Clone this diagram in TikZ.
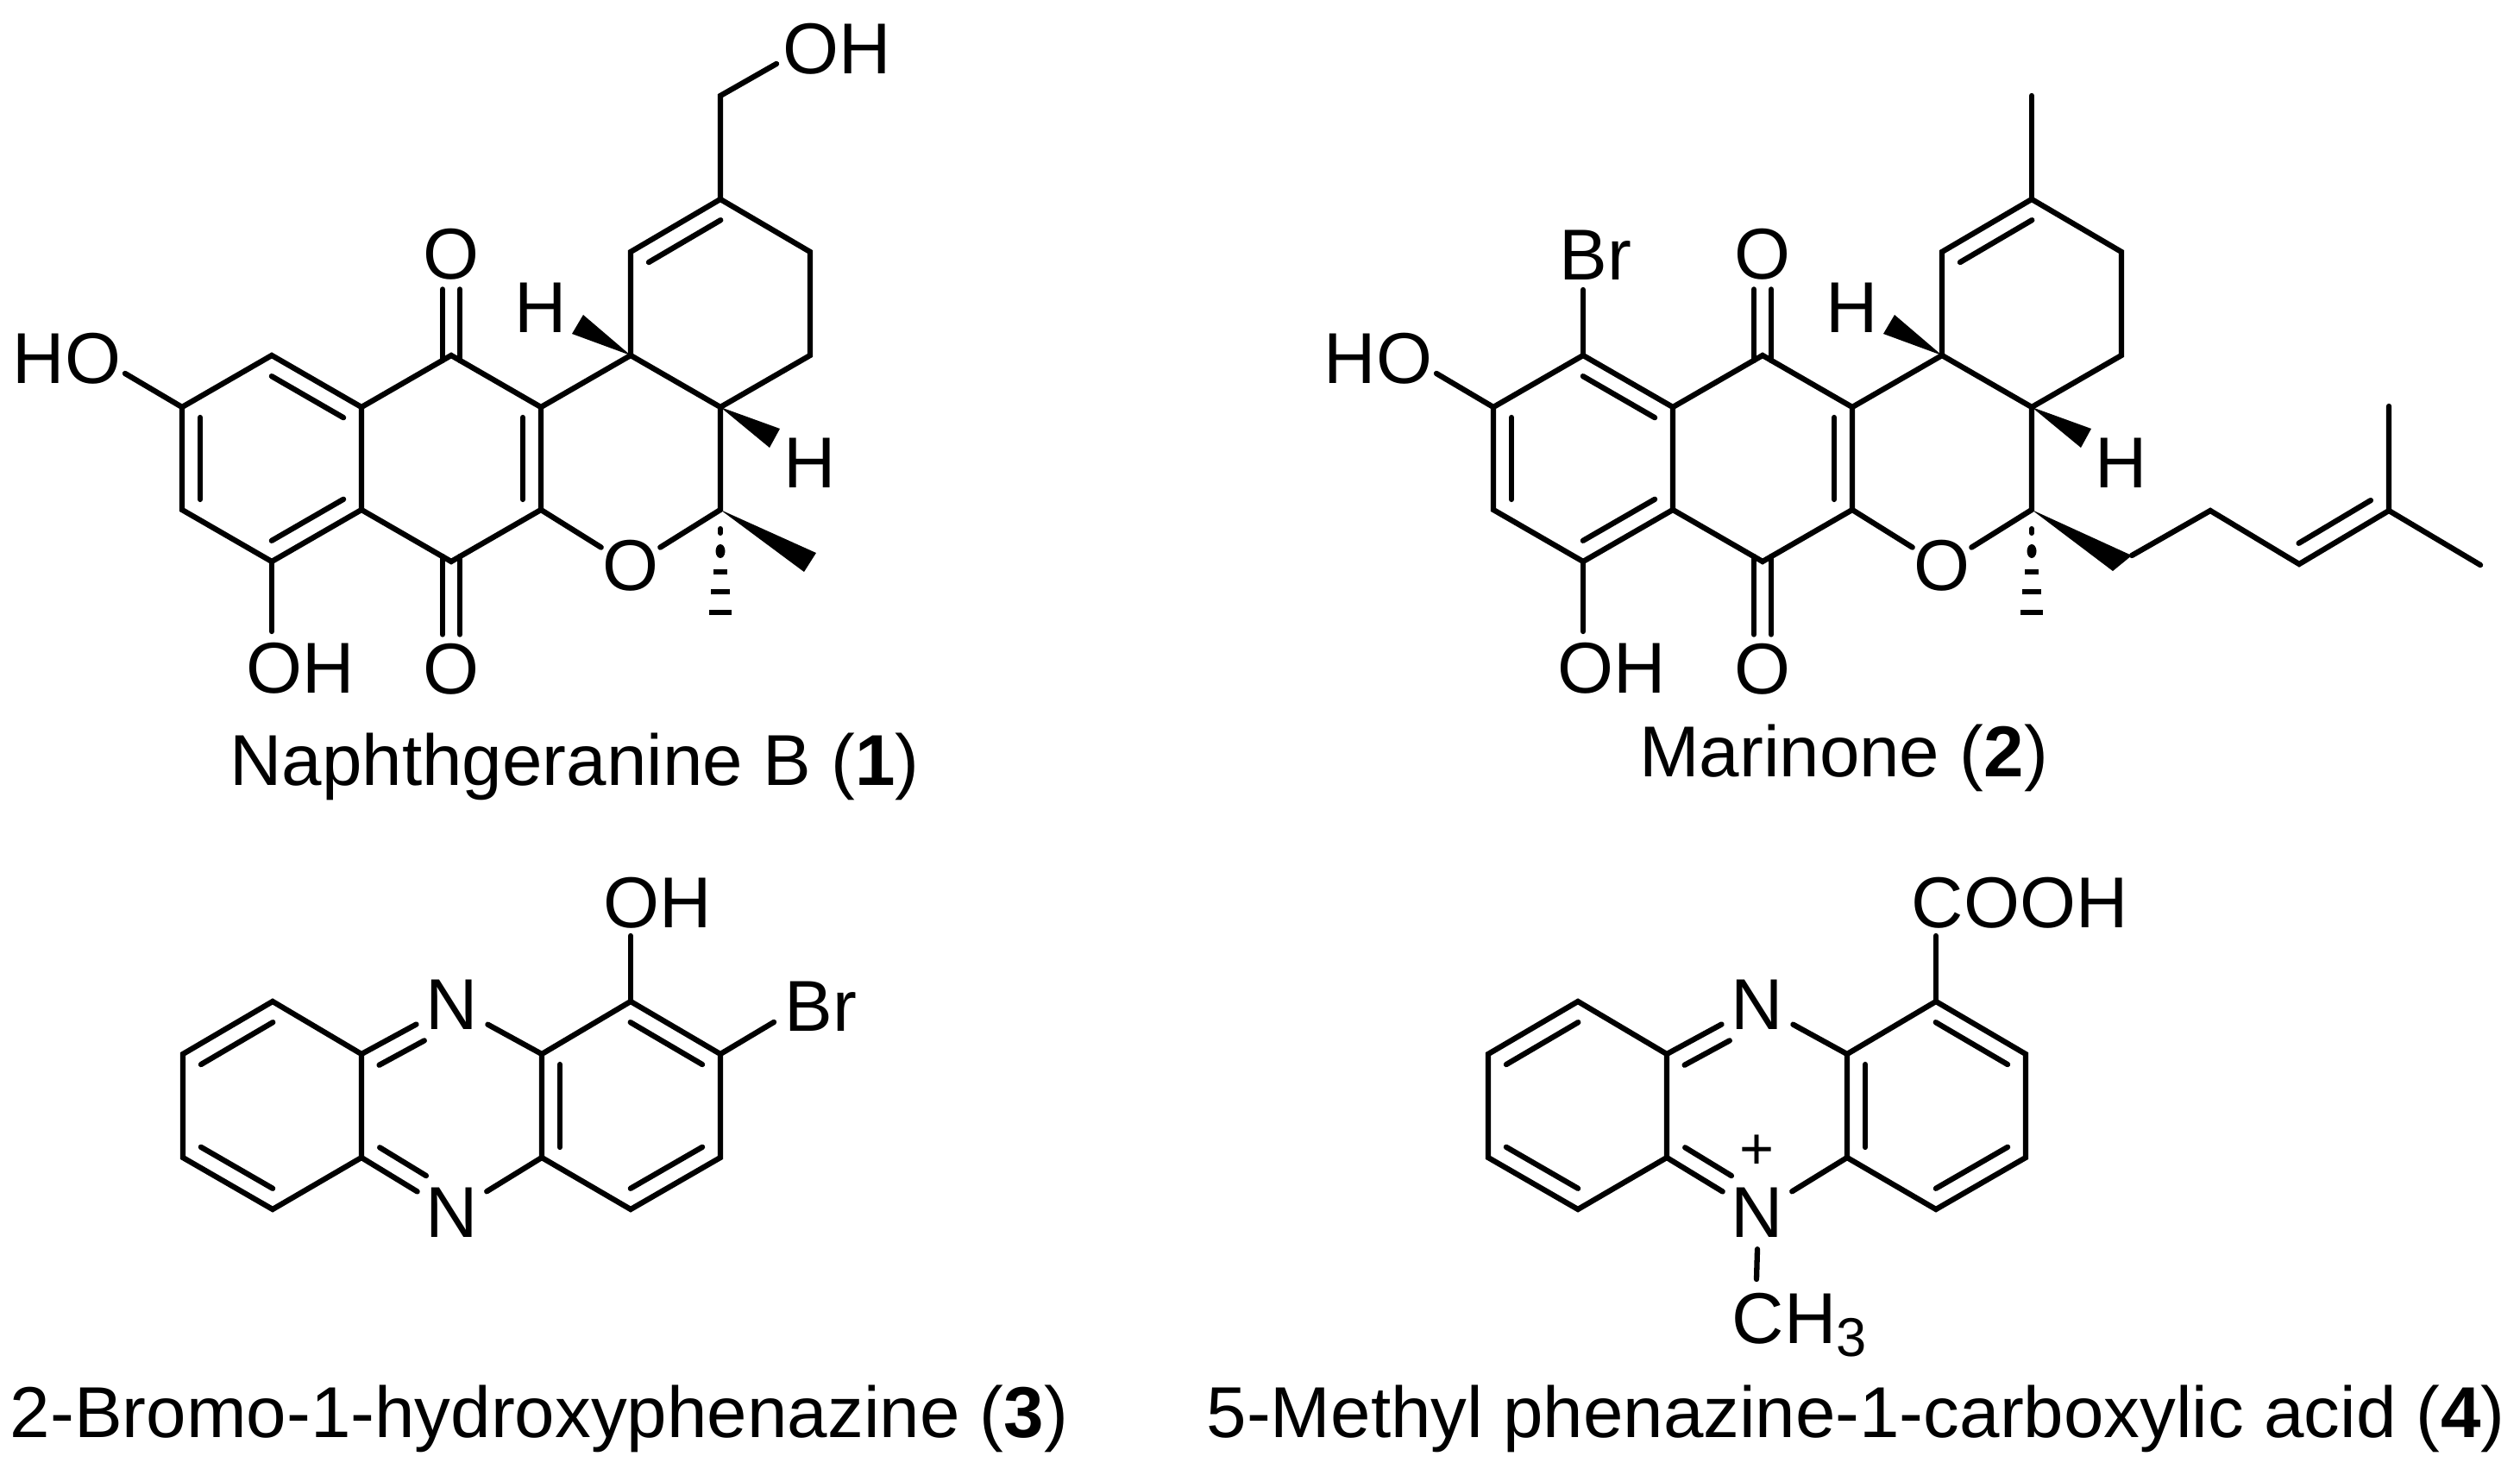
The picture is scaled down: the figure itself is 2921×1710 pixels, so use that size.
\documentclass[tikz,border=0pt]{standalone}
\usepackage{fontspec}
\setmainfont{Liberation Sans}
\usetikzlibrary{calc}
\tikzset{
	every node/.style={font=\fontsize{23.76}{28}\selectfont, inner sep=0pt},
	bond/.style={line width=.063cm, line cap=round, line join=miter},
	chemlabel/.style={anchor=base west},
	hatom/.style={anchor=base},
	oxygen/.style={circle, inner sep=-.03cm},
	nitrogen/.style={circle, minimum size=.93cm},
	caption/.style={anchor=base}
}
\newcommand{\innerbond}[4]{\draw[bond] ($(#1)!#3!(#2)!.21cm!90:(#2)$) -- ($(#2)!#4!(#1)!.21cm!-90:(#1)$);}
\newcommand{\ringbond}[2]{\innerbond{#1}{#2}{.12cm}{.12cm}}
\newcommand{\hashbond}[1]{
	\draw[line width=.06cm, line cap=round] ([shift={(0,22)}]#1) -- ([shift={(0,27)}]#1);
	\fill ([shift={(0,48)}]#1) ellipse [x radius=.055cm, y radius=.08cm];
	\foreach \d/\w in {72/8, 95/11, 119/13}
		\draw[line width=.055cm] ([shift={(-\w,\d)}]#1) -- ([shift={(\w,\d)}]#1);
}
\newcommand{\quinonecore}{
	\foreach \atom/\x/\y in {a1/315/412, a2/211/472, a3/211/591, a4/315/651, a5/419/591, a6/419/472,
		k1/523/412, k2/523/651, c1/627/472, c2/627/591, s1/835/591, s2/835/472, s3/731/412,
		r1/731/292, r2/835/231, r3/939/292, r4/939/412, hoEnd/145/433, ohEnd/315/732,
		wa/676/365, wb/663/387, wc/904/497, wd/892/519}
		\coordinate (\atom) at (\x,\y);
	\node[oxygen] (oUp) at (523,295) {O};
	\node[oxygen] (oDown) at (523,776) {O};
	\node[oxygen] (oRing) at (731,656) {O};
	\node[hatom] (hUp) at (627,386) {H};
	\node[hatom] (hDown) at (939,566) {H};
	\node[chemlabel] (hoLeft) at (14,445) {HO};
	\node[chemlabel] (ohLow) at (285,804) {OH};
	\draw[bond] (a1) -- (a2) -- (a3) -- (a4) -- (a5) -- (a6) -- cycle;
	\draw[bond] (a6) -- (k1) -- (c1) -- (c2) -- (k2) -- (a5);
	\draw[bond] (c1) -- (s3) -- (s2) -- (s1);
	\draw[bond] (s3) -- (r1) -- (r2) -- (r3) -- (r4) -- (s2);
	\draw[bond] (c2) -- (oRing);
	\draw[bond] (s1) -- (oRing);
	\draw[bond] (a2) -- (hoEnd);
	\draw[bond] (a4) -- (ohEnd);
	\ringbond{a2}{a3}
	\ringbond{a4}{a5}
	\ringbond{a6}{a1}
	\ringbond{c2}{c1}
	\ringbond{r2}{r1}
	\foreach \s in {-10,10} {
		\draw[bond] ([shift={(\s,6)}]k1) -- ([shift={(\s,0)}]oUp.south);
		\draw[bond] ([shift={(\s,-6)}]k2) -- ([shift={(\s,0)}]oDown.north);
	}
	\fill (s3) -- (wa) -- (wb) -- cycle;
	\fill (s2) -- (wc) -- (wd) -- cycle;
	\hashbond{s1}
}
\newcommand{\phenazinecore}{
	\foreach \atom/\x/\y in {t1/316/1161, t2/212/1222, t3/212/1342, t4/316/1402, t5/419/1342, t6/419/1222,
		u1/628/1222, u2/628/1342, u3/731/1402, u4/835/1342, u5/835/1222, u6/731/1161, subEnd/731/1085}
		\coordinate (\atom) at (\x,\y);
	\node[nitrogen] (nUp) at (524,1165) {N};
	\node[nitrogen] (nDown) at (524,1406) {N};
	\draw[bond] (t1) -- (t2) -- (t3) -- (t4) -- (t5) -- (t6) -- cycle;
	\draw[bond] (u1) -- (u2) -- (u3) -- (u4) -- (u5) -- (u6) -- cycle;
	\draw[bond] (t6) -- (nUp);
	\draw[bond] (t5) -- (nDown);
	\draw[bond] (u1) -- (nUp);
	\draw[bond] (u2) -- (nDown);
	\draw[bond] (u6) -- (subEnd);
	\ringbond{t1}{t2}
	\ringbond{t3}{t4}
	\ringbond{u1}{u2}
	\ringbond{u3}{u4}
	\ringbond{u5}{u6}
	\innerbond{nUp}{t6}{.48cm}{.12cm}
	\innerbond{t5}{nDown}{.12cm}{.48cm}
}
\begin{document}
\begin{tikzpicture}[x=.01cm, y=-.01cm]
	\useasboundingbox (0,0) rectangle (2921,1710);
	\begin{scope}[name prefix=one-]
		\quinonecore
		\coordinate (ch2) at (835,111);
		\coordinate (ohEndTop) at (900,74);
		\coordinate (meA) at (946,641);
		\coordinate (meB) at (932,663);
		\node[chemlabel] (ohTop) at (907,86) {OH};
		\draw[bond] (r2) -- (ch2) -- (ohEndTop);
		\fill (s1) -- (meA) -- (meB) -- cycle;
	\end{scope}
	\begin{scope}[name prefix=two-, shift={(1520,0)}]
		\quinonecore
		\foreach \atom/\x/\y in {me/835/111, brEnd/315/336, ca/951/644, cb/929/662, e1/1042/592, e2/1145/654,
			e3/1249/592, e4/1249/471, e5/1355/655}
			\coordinate (\atom) at (\x,\y);
		\node[chemlabel] (brTop) at (287,325) {Br};
		\draw[bond] (r2) -- (me);
		\draw[bond] (a1) -- (brEnd);
		\fill (s1) -- (ca) -- (cb) -- cycle;
		\draw[bond] (ca) -- (e1) -- (e2) -- (e3) -- (e4);
		\draw[bond] (e3) -- (e5);
		\ringbond{e2}{e3}
	\end{scope}
	\begin{scope}[name prefix=three-]
		\phenazinecore
		\coordinate (brEnd) at (897,1185);
		\node[chemlabel] (ohTop) at (699,1075) {OH};
		\node[chemlabel] (brSide) at (909,1195) {Br};
		\draw[bond] (u5) -- (brEnd);
	\end{scope}
	\begin{scope}[name prefix=four-, shift={(1513,0)}]
		\phenazinecore
		\coordinate (meEnd) at (523,1483);
		\node[chemlabel] (cooh) at (702,1075) {COOH};
		\node[font=\fontsize{19.5}{22}\selectfont] (charge) at (523,1336) {+};
		\node[chemlabel] (methyl) at (494,1557) {CH\raisebox{-.15cm}{\fontsize{18}{20}\selectfont 3}};
		\draw[bond] ([yshift=.05cm]nDown.south) -- (meEnd);
	\end{scope}
	\node[caption] (nameOne) at (666,911) {Naphthgeranine B (\textbf{1})};
	\node[caption] (nameTwo) at (2137,901) {Marinone (\textbf{2})};
	\node[caption] (nameThree) at (625,1666) {2-Bromo-1-hydroxyphenazine (\textbf{3})};
	\node[caption] (nameFour) at (2151,1666) {5-Methyl phenazine-1-carboxylic acid (\textbf{4})};
\end{tikzpicture}
\end{document}
